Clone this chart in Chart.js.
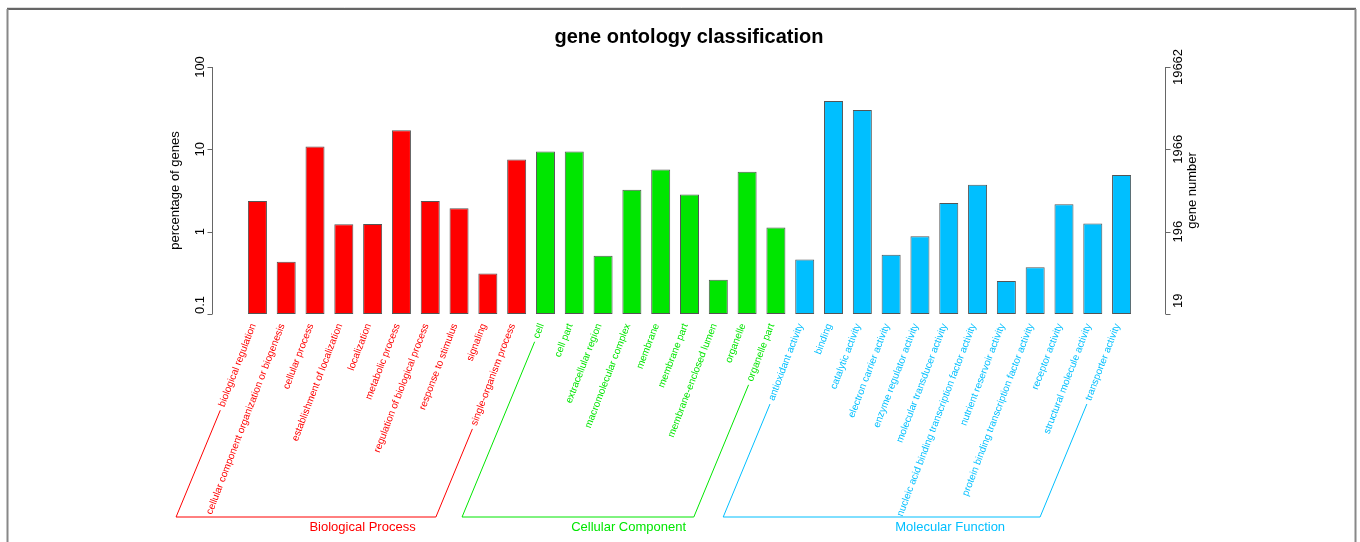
<!DOCTYPE html>
<html>
<head>
<meta charset="utf-8">
<script src="https://cdn.jsdelivr.net/npm/chart.js@4.4.1/dist/chart.umd.min.js"></script>
<style>html,body{margin:0;padding:0;background:#fff}</style>
</head>
<body>
<canvas id="go" width="1360" height="542"></canvas>
<script>
const terms = [
  "biological regulation","cellular component organization or biogenesis","cellular process",
  "establishment of localization","localization","metabolic process",
  "regulation of biological process","response to stimulus","signaling","single-organism process",
  "cell","cell part","extracellular region","macromolecular complex","membrane","membrane part",
  "membrane-enclosed lumen","organelle","organelle part",
  "antioxidant activity","binding","catalytic activity","electron carrier activity",
  "enzyme regulator activity","molecular transducer activity",
  "nucleic acid binding transcription factor activity","nutrient reservoir activity",
  "protein binding transcription factor activity","receptor activity",
  "structural molecule activity","transporter activity"
];
const percentages = [
  2.36, 0.43, 10.8, 1.23, 1.24, 17.1, 2.36, 1.92, 0.31, 7.5,
  9.4, 9.4, 0.51, 3.24, 5.67, 2.82, 0.26, 5.36, 1.12,
  0.46, 38.7, 30.1, 0.525, 0.88, 2.23, 3.72, 0.252, 0.37, 2.15, 1.26, 4.89
];
const groups = ["Biological Process", "Cellular Component", "Molecular Function"];
const groupSizes = [10, 9, 12];
const groupColors = ["#ff0000", "#00e600", "#00bfff"];
const leftTicks = [0.1, 1, 10, 100];
const leftTickLabels = ["0.1", "1", "10", "100"];
const rightTickLabels = ["19", "196", "1966", "19662"];

const barColors = [];
groupSizes.forEach((n, g) => { for (let i = 0; i < n; i++) barColors.push(groupColors[g]); });

const FONT = '"Liberation Sans", Arial, Helvetica, sans-serif';
const ANGLE = 69 * Math.PI / 180;
const LINE_ANGLE = 67.5 * Math.PI / 180;
const BRACKET_Y = 517;

function vtext(ctx, txt, x, y) {
  ctx.save();
  ctx.translate(x, y);
  ctx.rotate(-Math.PI / 2);
  ctx.fillText(txt, 0, 0);
  ctx.restore();
}

const decor = {
  id: "decor",
  afterDraw(chart) {
    const ctx = chart.ctx, area = chart.chartArea;
    const xs = chart.scales.x, ys = chart.scales.y;
    ctx.save();

    // frame
    ctx.strokeStyle = "#ddd"; ctx.lineWidth = 1;
    ctx.beginPath(); ctx.moveTo(7, 7.5); ctx.lineTo(1356, 7.5); ctx.stroke();
    ctx.strokeStyle = "#333"; ctx.lineWidth = 1.5;
    ctx.beginPath(); ctx.moveTo(7, 9); ctx.lineTo(1356, 9); ctx.stroke();
    ctx.strokeStyle = "#888"; ctx.lineWidth = 2;
    ctx.beginPath(); ctx.moveTo(7.5, 9); ctx.lineTo(7.5, 542); ctx.stroke();
    ctx.beginPath(); ctx.moveTo(1355.5, 9); ctx.lineTo(1355.5, 542); ctx.stroke();

    // title
    ctx.fillStyle = "#000";
    ctx.font = "bold 20px " + FONT;
    ctx.textAlign = "center"; ctx.textBaseline = "middle";
    ctx.fillText("gene ontology classification", 689, 37);

    // axes
    const lx = Math.round(area.left) - 31 + 0.5, rx = Math.round(area.right) + 29 + 0.5;
    const yTop = ys.getPixelForValue(leftTicks[leftTicks.length - 1]);
    const yBot = ys.getPixelForValue(leftTicks[0]);
    ctx.strokeStyle = "#666"; ctx.lineWidth = 1;
    ctx.beginPath();
    ctx.moveTo(lx, yTop); ctx.lineTo(lx, yBot);
    ctx.moveTo(rx, yTop); ctx.lineTo(rx, yBot);
    leftTicks.forEach(v => {
      const y = Math.round(ys.getPixelForValue(v)) + 0.5;
      ctx.moveTo(lx - 5, y); ctx.lineTo(lx, y);
      ctx.moveTo(rx, y); ctx.lineTo(rx + 5, y);
    });
    ctx.stroke();

    ctx.font = "13px " + FONT;
    ctx.fillStyle = "#000";
    leftTicks.forEach((v, i) => {
      const y = ys.getPixelForValue(v);
      let w = ctx.measureText(leftTickLabels[i]).width;
      vtext(ctx, leftTickLabels[i], lx - 12, Math.min(y, yBot - w / 2));
      w = ctx.measureText(rightTickLabels[i]).width;
      vtext(ctx, rightTickLabels[i], rx + 13, Math.min(y, yBot - w / 2 - 6));
    });
    const yMid = (yTop + yBot) / 2;
    vtext(ctx, "percentage of genes", lx - 37, yMid);
    vtext(ctx, "gene number", rx + 27, yMid);

    // category labels
    ctx.font = "10px " + FONT;
    ctx.textAlign = "right"; ctx.textBaseline = "middle";
    const anchors = terms.map((t, i) => {
      const cx = xs.getPixelForValue(i);
      const ax = cx - 4, ay = yBot + 10;
      ctx.fillStyle = barColors[i];
      ctx.save();
      ctx.translate(ax, ay);
      ctx.rotate(-ANGLE);
      ctx.fillText(t, 0, 0);
      ctx.restore();
      const w = ctx.measureText(t).width + 4;
      return { x: ax - Math.cos(ANGLE) * w, y: ay + Math.sin(ANGLE) * w };
    });

    // group brackets
    let start = 0;
    ctx.lineWidth = 1;
    ctx.font = "13px " + FONT;
    ctx.textAlign = "center";
    groups.forEach((name, g) => {
      const a = anchors[start], b = anchors[start + groupSizes[g] - 1];
      const k = 1 / Math.tan(LINE_ANGLE);
      const aBot = a.x - k * (BRACKET_Y - a.y);
      const bBot = b.x - k * (BRACKET_Y - b.y);
      ctx.strokeStyle = groupColors[g];
      ctx.beginPath();
      ctx.moveTo(a.x, a.y); ctx.lineTo(aBot, BRACKET_Y);
      ctx.lineTo(bBot, BRACKET_Y); ctx.lineTo(b.x, b.y);
      ctx.stroke();
      ctx.fillStyle = groupColors[g];
      ctx.fillText(name, aBot + 0.71 * (bBot - aBot) + 2, 527);
      start += groupSizes[g];
    });
    ctx.restore();
  }
};

new Chart(document.getElementById("go"), {
  type: "bar",
  data: {
    labels: terms,
    datasets: [{
      data: percentages,
      base: 0.1,
      backgroundColor: barColors,
      borderColor: "#555",
      borderWidth: 1,
      borderSkipped: false,
      barPercentage: 0.66,
      categoryPercentage: 1
    }]
  },
  options: {
    responsive: false,
    animation: false,
    layout: { padding: { left: 243, right: 224, top: 67, bottom: 228 } },
    plugins: { legend: { display: false }, tooltip: { enabled: false } },
    scales: {
      x: { type: "category", display: false, offset: true },
      y: { type: "logarithmic", display: false, min: 0.1, max: 100 }
    }
  },
  plugins: [decor]
});
</script>
</body>
</html>
